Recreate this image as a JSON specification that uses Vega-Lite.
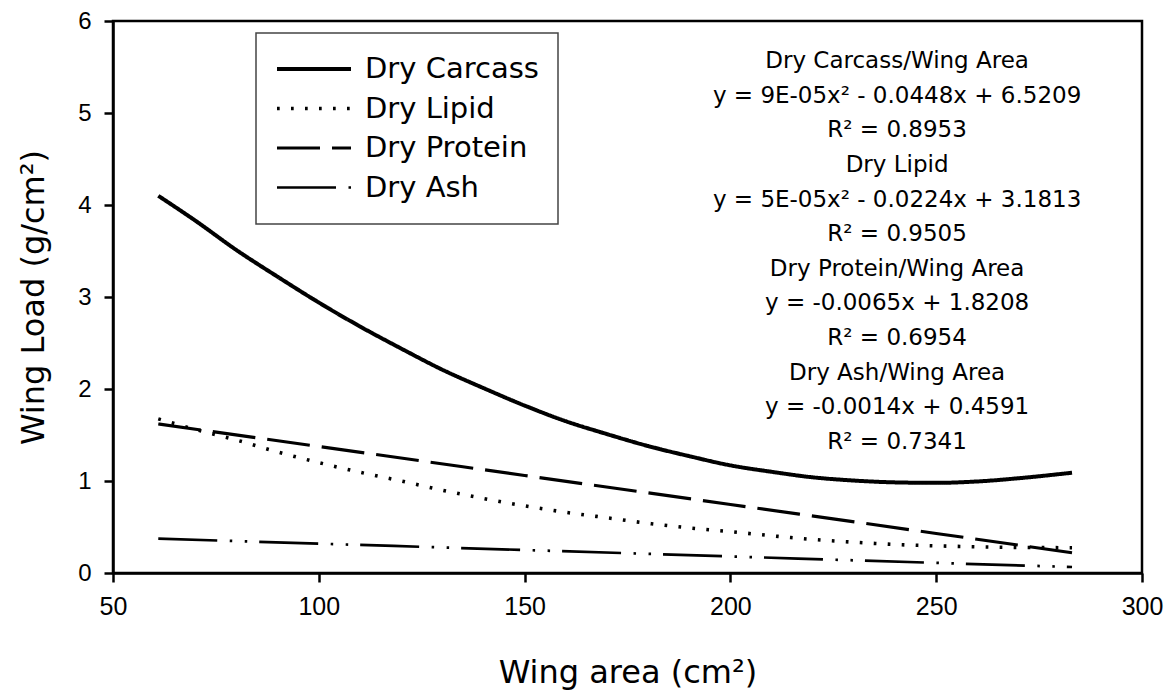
{
  "$schema": "https://vega.github.io/schema/vega-lite/v6.json",
  "width": 1029,
  "height": 552,
  "autosize": {"type": "none"},
  "padding": {"left": 113, "top": 21, "right": 30, "bottom": 121},
  "background": "white",
  "config": {
    "view": {"stroke": "black", "strokeWidth": 2.5},
    "axis": {
      "grid": false,
      "domainColor": "black",
      "domainWidth": 2.5,
      "tickColor": "black",
      "tickWidth": 2.5,
      "tickSize": 9,
      "labelFont": "Liberation Sans",
      "labelFontSize": 24,
      "labelColor": "black",
      "labelFlush": false,
      "labelOverlap": false,
      "titleFont": "DejaVu Sans",
      "titleFontSize": 32,
      "titleFontWeight": "normal",
      "titleColor": "black"
    }
  },
  "layer": [
    {
      "data": {
        "values": [
          {"series": "Dry Carcass", "area": 61, "load": 4.10},
          {"series": "Dry Carcass", "area": 70, "load": 3.83},
          {"series": "Dry Carcass", "area": 80, "load": 3.51},
          {"series": "Dry Carcass", "area": 90, "load": 3.22},
          {"series": "Dry Carcass", "area": 100, "load": 2.94},
          {"series": "Dry Carcass", "area": 110, "load": 2.68},
          {"series": "Dry Carcass", "area": 120, "load": 2.44},
          {"series": "Dry Carcass", "area": 130, "load": 2.21},
          {"series": "Dry Carcass", "area": 140, "load": 2.01},
          {"series": "Dry Carcass", "area": 150, "load": 1.82},
          {"series": "Dry Carcass", "area": 160, "load": 1.65},
          {"series": "Dry Carcass", "area": 170, "load": 1.51},
          {"series": "Dry Carcass", "area": 180, "load": 1.38},
          {"series": "Dry Carcass", "area": 190, "load": 1.27},
          {"series": "Dry Carcass", "area": 200, "load": 1.17},
          {"series": "Dry Carcass", "area": 210, "load": 1.10},
          {"series": "Dry Carcass", "area": 220, "load": 1.04},
          {"series": "Dry Carcass", "area": 230, "load": 1.005},
          {"series": "Dry Carcass", "area": 240, "load": 0.985},
          {"series": "Dry Carcass", "area": 250, "load": 0.98},
          {"series": "Dry Carcass", "area": 260, "load": 0.995},
          {"series": "Dry Carcass", "area": 270, "load": 1.03},
          {"series": "Dry Carcass", "area": 283, "load": 1.09},
          {"series": "Dry Lipid", "area": 61, "load": 1.675},
          {"series": "Dry Lipid", "area": 70, "load": 1.56},
          {"series": "Dry Lipid", "area": 80, "load": 1.445},
          {"series": "Dry Lipid", "area": 90, "load": 1.315},
          {"series": "Dry Lipid", "area": 100, "load": 1.20},
          {"series": "Dry Lipid", "area": 110, "load": 1.095},
          {"series": "Dry Lipid", "area": 120, "load": 1.00},
          {"series": "Dry Lipid", "area": 130, "load": 0.90},
          {"series": "Dry Lipid", "area": 140, "load": 0.81},
          {"series": "Dry Lipid", "area": 150, "load": 0.73},
          {"series": "Dry Lipid", "area": 160, "load": 0.66},
          {"series": "Dry Lipid", "area": 170, "load": 0.60},
          {"series": "Dry Lipid", "area": 180, "load": 0.54},
          {"series": "Dry Lipid", "area": 190, "load": 0.49},
          {"series": "Dry Lipid", "area": 200, "load": 0.45},
          {"series": "Dry Lipid", "area": 210, "load": 0.405},
          {"series": "Dry Lipid", "area": 220, "load": 0.365},
          {"series": "Dry Lipid", "area": 230, "load": 0.335},
          {"series": "Dry Lipid", "area": 240, "load": 0.31},
          {"series": "Dry Lipid", "area": 250, "load": 0.295},
          {"series": "Dry Lipid", "area": 260, "load": 0.285},
          {"series": "Dry Lipid", "area": 270, "load": 0.278},
          {"series": "Dry Lipid", "area": 283, "load": 0.275},
          {"series": "Dry Protein", "area": 61, "load": 1.62},
          {"series": "Dry Protein", "area": 100, "load": 1.375},
          {"series": "Dry Protein", "area": 150, "load": 1.06},
          {"series": "Dry Protein", "area": 200, "load": 0.745},
          {"series": "Dry Protein", "area": 250, "load": 0.43},
          {"series": "Dry Protein", "area": 283, "load": 0.22},
          {"series": "Dry Ash", "area": 61, "load": 0.373},
          {"series": "Dry Ash", "area": 100, "load": 0.319},
          {"series": "Dry Ash", "area": 150, "load": 0.25},
          {"series": "Dry Ash", "area": 200, "load": 0.18},
          {"series": "Dry Ash", "area": 250, "load": 0.11},
          {"series": "Dry Ash", "area": 283, "load": 0.065}
        ]
      },
      "mark": {"type": "line", "color": "black", "strokeCap": "butt", "interpolate": "monotone"},
      "encoding": {
        "x": {
          "field": "area",
          "type": "quantitative",
          "scale": {"domain": [50, 300], "nice": false, "zero": false},
          "axis": {
            "values": [50, 100, 150, 200, 250, 300],
            "format": "d",
            "labelFontSize": 25,
            "labelPadding": 12,
            "title": "Wing area (cm²)",
            "titleBaseline": "alphabetic",
            "titleY": 109
          }
        },
        "y": {
          "field": "load",
          "type": "quantitative",
          "scale": {"domain": [0, 6], "nice": false},
          "axis": {
            "values": [0, 1, 2, 3, 4, 5, 6],
            "format": "d",
            "labelPadding": 13,
            "title": "Wing Load (g/cm²)",
            "titleBaseline": "alphabetic",
            "titleAngle": -90,
            "titleX": -70
          }
        },
        "strokeDash": {
          "field": "series",
          "type": "nominal",
          "scale": {
            "domain": ["Dry Carcass", "Dry Lipid", "Dry Protein", "Dry Ash"],
            "range": [[1, 0], [2.7, 11.3], [43, 12], [59, 12.5, 2.5, 12.5, 2.5, 12]]
          },
          "legend": {
            "orient": "none",
            "legendX": 143,
            "legendY": 12,
            "title": null,
            "symbolType": "stroke",
            "symbolSize": 5476,
            "symbolStrokeWidth": 3,
            "symbolStrokeColor": "black",
            "labelFont": "DejaVu Sans",
            "labelFontSize": 29,
            "labelColor": "black",
            "labelOffset": 12,
            "labelLimit": 400,
            "clipHeight": 34,
            "rowPadding": 5.5,
            "padding": 19,
            "strokeColor": "#444444",
            "fillColor": "white",
            "encode": {"legend": {"update": {"strokeWidth": {"value": 1.5}}}}
          }
        },
        "strokeWidth": {
          "field": "series",
          "type": "nominal",
          "scale": {
            "domain": ["Dry Carcass", "Dry Lipid", "Dry Protein", "Dry Ash"],
            "range": [4, 2.7, 4, 2.7]
          },
          "legend": null
        },
        "detail": {"field": "series", "type": "nominal"}
      }
    },
    {
      "data": {"values": [{"note": "fit equations"}]},
      "mark": {
        "type": "text",
        "font": "DejaVu Sans",
        "fontSize": 23,
        "fill": "black",
        "align": "center",
        "baseline": "alphabetic",
        "lineHeight": 34.6,
        "text": [
          "Dry Carcass/Wing Area",
          "y = 9E-05x² - 0.0448x + 6.5209",
          "R² = 0.8953",
          "Dry Lipid",
          "y = 5E-05x² - 0.0224x + 3.1813",
          "R² = 0.9505",
          "Dry Protein/Wing Area",
          "y = -0.0065x + 1.8208",
          "R² = 0.6954",
          "Dry Ash/Wing Area",
          "y = -0.0014x + 0.4591",
          "R² = 0.7341"
        ]
      },
      "encoding": {
        "x": {"datum": 240.5, "type": "quantitative"},
        "y": {"datum": 5.486, "type": "quantitative"}
      }
    }
  ]
}
